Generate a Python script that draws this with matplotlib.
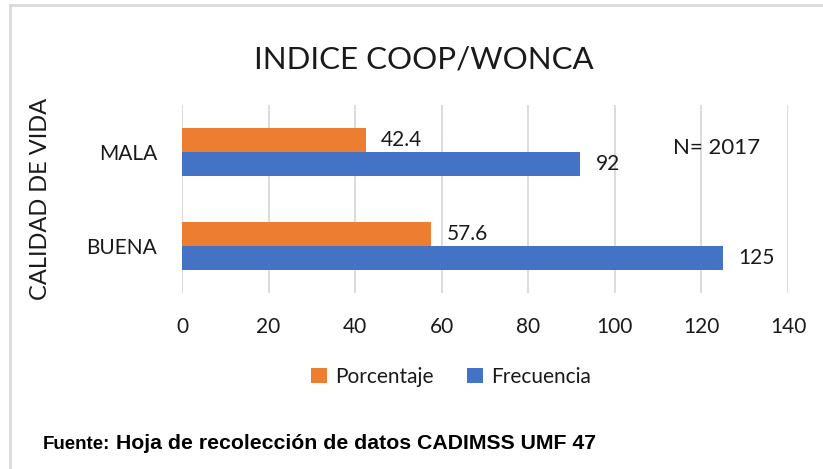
import matplotlib
matplotlib.use("Agg")
import matplotlib.pyplot as plt
import numpy as np

categories = ["BUENA", "MALA"]
frecuencia = [125, 92]
porcentaje = [57.6, 42.4]
xticks = [0, 20, 40, 60, 80, 100, 120, 140]
title = "INDICE COOP/WONCA"
ylabel = "CALIDAD DE VIDA"
note = "N= 2017"
series_names = ["Porcentaje", "Frecuencia"]

FONT = ["Lato", "DejaVu Sans"]
plt.rcParams["font.family"] = FONT

W, H = 823, 469
fig = plt.figure(figsize=(W / 100, H / 100), dpi=100)
fig.patch.set_facecolor("white")

# plot area in pixels
x0, x1 = 182, 788
y_top, y_bot = 105, 293
ax = fig.add_axes([x0 / W, 1 - y_bot / H, (x1 - x0) / W, (y_bot - y_top) / H])

y = np.arange(len(categories))
h = 0.26
b_frec = ax.barh(y - h / 2, frecuencia, height=h, color="#4472C4", label=series_names[1], zorder=3)
b_porc = ax.barh(y + h / 2, porcentaje, height=h, color="#ED7D31", label=series_names[0], zorder=3)

ax.bar_label(b_frec, labels=[f"{v:g}" for v in frecuencia], padding=11, fontsize=15, color="#1a1a1a")
ax.bar_label(b_porc, labels=[f"{v:g}" for v in porcentaje], padding=11, fontsize=15, color="#1a1a1a")

ax.set_xlim(xticks[0], xticks[-1])
ax.set_ylim(-0.5, len(categories) - 0.5)
ax.set_xticks(xticks)
ax.set_xticklabels([str(t) for t in xticks], fontsize=15, color="#1a1a1a")
ax.set_yticks(y)
ax.set_yticklabels(categories, fontsize=15, color="#1a1a1a")
ax.tick_params(axis="x", length=0, pad=17)
ax.tick_params(axis="y", length=0, pad=18)
ax.grid(axis="x", color="#d9d9d9", linewidth=1.3, zorder=0)
for s in ax.spines.values():
    s.set_visible(False)

ax.set_ylabel(ylabel, fontsize=17, color="#1a1a1a")
ax.yaxis.set_label_coords((51 - x0) / (x1 - x0), 0.5)

fig.text(424 / W, 1 - 60 / H, title, ha="center", va="center", fontsize=22.5, color="#1a1a1a")
fig.text(717 / W, 1 - 148 / H, note, ha="center", va="center", fontsize=16, color="#1a1a1a")

handles = [b_porc, b_frec]
fig.legend(handles, series_names, loc="center", bbox_to_anchor=(451 / W, 1 - 377 / H),
           ncol=2, frameon=False, fontsize=15, handlelength=0.75, handleheight=0.75,
           handletextpad=0.4, columnspacing=1.6, labelcolor="#1a1a1a")

fig.text(43 / W, 1 - 444 / H, "Fuente:", ha="left", va="center", fontsize=13.5,
         fontweight="bold", family=["Liberation Sans", "DejaVu Sans"])
fig.text(116 / W, 1 - 443 / H, "Hoja de recolección de datos CADIMSS UMF 47", ha="left", va="center",
         fontsize=15.3, fontweight="bold", family=["Liberation Sans", "DejaVu Sans"])

# border lines (top and left)
fig.add_artist(plt.Line2D([10 / W, 1], [1 - 5 / H, 1 - 5 / H], transform=fig.transFigure, color="#d9d9d9", linewidth=2))
fig.add_artist(plt.Line2D([10 / W, 10 / W], [0, 1 - 5 / H], transform=fig.transFigure, color="#d9d9d9", linewidth=2))

fig.savefig("out.png", dpi=100, facecolor="white")
